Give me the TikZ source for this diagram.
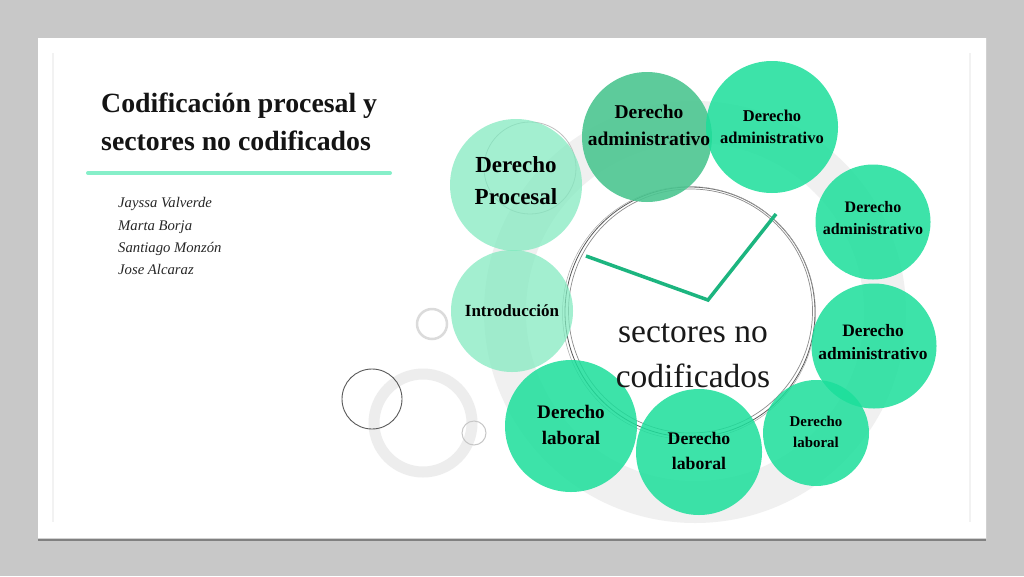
\documentclass[tikz,border=0pt]{standalone}
\usepackage{fontspec}
\setmainfont{Liberation Serif}
\definecolor{bgray}{HTML}{C8C8C8}
\definecolor{mint}{RGB}{128,234,191}
\definecolor{jade}{RGB}{76,198,145}
\definecolor{emer}{RGB}{28,223,155}
\definecolor{handc}{RGB}{28,181,127}
\definecolor{uline}{HTML}{86EFC9}
\newcommand\fsz[2]{\fontsize{#1}{#2}\selectfont}
\tikzset{
  bub/.style={circle, inner sep=0pt, draw=none, fill=emer, fill opacity=0.85},
  lite/.style={bub, fill=mint, fill opacity=0.72},
  darkbub/.style={bub, fill=jade, fill opacity=0.9},
  ctext/.style={align=center, text=black, inner sep=0pt},
  ttl/.style={anchor=base west, inner sep=0pt, text=black!92, font=\bfseries\fsz{27.8}{34}},
  auth/.style={anchor=base west, inner sep=0pt, text=black!85, font=\itshape\fsz{14.7}{18}},
  hubtext/.style={anchor=base, inner sep=0pt, text=black!90, font=\fsz{33.5}{40}},
  sketch/.style={draw=black!60, line width=0.7pt, fill=none},
  faintring/.style={draw=black!6, fill=none}
}
\begin{document}
\begin{tikzpicture}[x=1pt,y=-1pt]
\useasboundingbox (0,0) rectangle (1024,576);
% background and slide
\fill[bgray] (0,0) rectangle (1024,576);
\fill[black!50] (38,40) rectangle (986,540.5);
\fill[black!18] (38,38) rectangle (987,539);
\fill[white] (38,38) rectangle (986,538);
\draw[black!5, line width=1.5pt] (53,53) -- (53,522);
\draw[black!5, line width=1.5pt] (970,53) -- (970,522);

% title
\node[ttl] (t1) at (101,112) {Codificación procesal y};
\node[ttl] (t2) at (101,150) {sectores no codificados};
\draw[uline, line width=4pt, line cap=round] (88,173) -- (390,173);
\node[auth] (a1) at (118,207) {Jayssa Valverde};
\node[auth] (a2) at (118,230) {Marta Borja};
\node[auth] (a3) at (118,252) {Santiago Monzón};
\node[auth] (a4) at (118,274) {Jose Alcaraz};

% background decorations
\draw[faintring, line width=42pt] (695,312) circle (190);
\draw[draw=black!7, line width=11pt] (423,423) circle (49);
\draw[draw=black!14, line width=2.5pt] (432,324) circle (15);
\draw[draw=black!65, line width=0.9pt] (372,399) circle (30);
\draw[draw=black!22, line width=1pt] (474,433) circle (12);
\draw[draw=black!25, line width=0.8pt] (530,168) circle (46);

% central ring
\node[circle, draw=black!65, line width=0.8pt, minimum size=250pt, inner sep=0pt] (hub) at (690,312) {};
\draw[sketch, draw=black!45] (690.5,311) circle (122);
\draw[sketch, draw=black!35, line width=0.5pt] (689,313) circle (126.5);

% bubbles
\node[lite, minimum size=132pt] (proc) at (516,185) {};
\node[darkbub, minimum size=130pt] (adm0) at (647,137) {};
\node[bub, minimum size=132pt] (adm1) at (772,127) {};
\node[bub, minimum size=115pt] (adm2) at (873,222) {};
\node[bub, minimum size=125pt] (adm3) at (874,346) {};
\node[bub, minimum size=106pt] (lab3) at (816,433) {};
\node[bub, minimum size=126pt] (lab2) at (699,452) {};
\node[bub, minimum size=132pt] (lab1) at (571,426) {};
\node[lite, minimum size=122pt] (intro) at (512,311) {};

% bubble texts
\node[ctext, font=\bfseries\fsz{23}{32}] (tproc) at (516,181) {Derecho\\Procesal};
\node[ctext, font=\bfseries\fsz{19.5}{27}] (tadm0) at (649,125) {Derecho\\administrativo};
\node[ctext, font=\bfseries\fsz{16.5}{22}] (tadm1) at (772,127) {Derecho\\administrativo};
\node[ctext, font=\bfseries\fsz{16}{22}] (tadm2) at (873,218) {Derecho\\administrativo};
\node[ctext, font=\bfseries\fsz{17.4}{23}] (tadm3) at (873,342) {Derecho\\administrativo};
\node[ctext, font=\bfseries\fsz{14.9}{21}] (tlab3) at (816,432) {Derecho\\laboral};
\node[ctext, font=\bfseries\fsz{17.7}{25}] (tlab2) at (699,451) {Derecho\\laboral};
\node[ctext, font=\bfseries\fsz{19.1}{26}] (tlab1) at (571,425) {Derecho\\laboral};
\node[ctext, font=\bfseries\fsz{17}{20}] (tintro) at (512,311) {Introducción};

% hub text
\node[hubtext] (s1) at (693,342) {sectores no};
\node[hubtext] (s2) at (693,387) {codificados};

% clock hands
\coordinate (h1) at (586,256);
\coordinate (hc) at (708,300);
\coordinate (h2) at (776,214);
\draw[handc, line width=3.5pt, line join=miter] (h1) -- (hc) -- (h2);
\end{tikzpicture}
\end{document}
